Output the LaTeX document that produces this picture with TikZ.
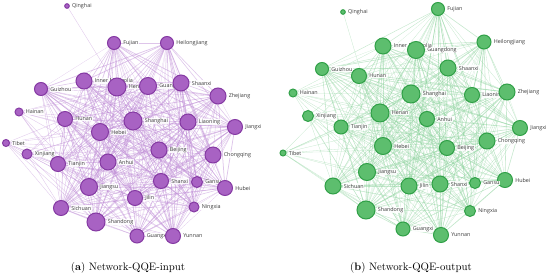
\documentclass[tikz,border=0pt]{standalone}
\usepackage{fontspec}
\newfontfamily\labfont{Open Sans}
\pgfdeclarelayer{bg}
\pgfsetlayers{bg,main}
\definecolor{pfill}{HTML}{A862C3}
\definecolor{pdraw}{HTML}{853AA3}
\definecolor{pedge}{HTML}{BE8CD5}
\definecolor{gfill}{HTML}{5DBE6E}
\definecolor{gdraw}{HTML}{30A047}
\definecolor{gedge}{HTML}{8DD29D}
\definecolor{labtext}{HTML}{3A3A3A}
\tikzset{
  circA/.style={circle,fill=pfill,draw=pdraw,line width=1pt,inner sep=0pt},
  circB/.style={circle,fill=gfill,draw=gdraw,line width=1pt,inner sep=0pt},
  lab/.style={font=\labfont\fontsize{5.4}{6}\selectfont,text=labtext,fill=white,fill opacity=0.85,text opacity=1,inner sep=0.5pt,anchor=west},
  edgeA/.style={draw=pedge,opacity=0.5},
  edgeB/.style={draw=gedge,opacity=0.5},
  capt/.style={font=\fontsize{10.8}{12}\selectfont,text=black,inner sep=0pt}
}
\begin{document}
\begin{tikzpicture}[x=1pt,y=-1pt]
\useasboundingbox (0,0) rectangle (550,278);
% ---------- left graph nodes ----------
\foreach \id/\t/\x/\y/\r in {
 Qinghai/Qinghai/67/6/2.3, Fujian/Fujian/114/43/6.5, Heilongjiang/Heilongjiang/167/43/6.5,
 InnerMongolia/Inner Mongolia/84/81/8, Henan/Henan/117/87/9, Guangdong/Guangdong/148/86/8.5,
 Shaanxi/Shaanxi/181/83/8, Guizhou/Guizhou/41/89/6.5, Zhejiang/Zhejiang/218/96/8,
 Hainan/Hainan/19/112/4, Hunan/Hunan/65/119/7.5, Shanghai/Shanghai/133/121/9,
 Liaoning/Liaoning/188/122/8, Jiangxi/Jiangxi/235/127/7.5, Hebei/Hebei/100/132/8.5,
 Tibet/Tibet/6/143/3.5, Beijing/Beijing/159/150/8, Xinjiang/Xinjiang/27/154/5,
 Chongqing/Chongqing/213/155/8, Tianjin/Tianjin/58/164/7.5, Anhui/Anhui/108/162/8,
 Shanxi/Shanxi/161/181/7.5, Gansu/Gansu/197/182/5.5, Jiangsu/Jiangsu/89/187/8.5,
 Hubei/Hubei/225/188/7.5, Jilin/Jilin/135/198/7.5, Ningxia/Ningxia/194/207/5,
 Sichuan/Sichuan/61/208/7.5, Shandong/Shandong/96/222/9, Guangxi/Guangxi/137/236/7,
 Yunnan/Yunnan/173/236/7.5}{
  \node[circA,minimum size=2*\r pt] (L\id) at (\x,\y) {};
  \node[lab] (LT\id) at ([xshift=1.6pt]L\id.east) {\t};
}
% ---------- right graph nodes ----------
\foreach \id/\t/\x/\y/\r in {
 Qinghai/Qinghai/343/12/2.3, Fujian/Fujian/438/9/6.5, InnerMongolia/Inner Mongolia/383/46/8,
 Guangdong/Guangdong/416/50/8.5, Heilongjiang/Heilongjiang/484/42/7, Guizhou/Guizhou/322/69/6.5,
 Shaanxi/Shaanxi/448/68/8, Hunan/Hunan/359/76/7.5, Hainan/Hainan/293/93/4,
 Shanghai/Shanghai/411/94/9, Liaoning/Liaoning/472/95/7.5, Zhejiang/Zhejiang/507/92/8,
 Henan/Henan/380/113/9, Xinjiang/Xinjiang/308/116/5.5, Anhui/Anhui/427/119/7.5,
 Tianjin/Tianjin/341/127/7, Jiangxi/Jiangxi/520/128/7.5, Chongqing/Chongqing/487/141/8,
 Hebei/Hebei/383/146/8.5, Beijing/Beijing/447/148/7.5, Tibet/Tibet/283/153/3,
 Jiangsu/Jiangsu/367/172/8.5, Hubei/Hubei/505/180/7.5, Gansu/Gansu/475/183/5.5,
 Shanxi/Shanxi/440/184/8, Sichuan/Sichuan/333/186/8, Jilin/Jilin/409/186/8,
 Shandong/Shandong/366/210/9, Ningxia/Ningxia/470/211/5.5, Guangxi/Guangxi/403/229/7,
 Yunnan/Yunnan/441/235/7.5}{
  \node[circB,minimum size=2*\r pt] (R\id) at (\x,\y) {};
  \node[lab] (RT\id) at ([xshift=1.6pt]R\id.east) {\t};
}
% ---------- edges ----------
\def\corelist{Fujian,Heilongjiang,InnerMongolia,Henan,Guangdong,Shaanxi,Guizhou,Zhejiang,Hunan,Shanghai,Liaoning,Jiangxi,Hebei,Beijing,Chongqing,Tianjin,Anhui,Shanxi,Gansu,Jiangsu,Hubei,Jilin,Ningxia,Sichuan,Shandong,Guangxi,Yunnan}
\begin{pgfonlayer}{bg}
\foreach \a [count=\i] in \corelist {
  \foreach \b [count=\j] in \corelist {
    \ifnum\j>\i
      \pgfmathtruncatemacro\m{mod(\i*7+\j*3,4)}
      \pgfmathsetmacro\wa{0.2+0.18*\m}
      \pgfmathtruncatemacro\n{mod(\i*5+\j*11,4)}
      \pgfmathsetmacro\wb{0.15+0.15*\n}
      \draw[edgeA,line width=\wa pt] (L\a.center) -- (L\b.center);
      \draw[edgeB,line width=\wb pt] (R\a.center) -- (R\b.center);
    \fi
  }
}
\foreach \p/\q in {Qinghai/Henan,
 Tibet/Hunan,Tibet/Hebei,Tibet/Tianjin,Tibet/Anhui,Tibet/Jiangsu,Tibet/Sichuan,Tibet/Shandong,Tibet/Shanghai,Tibet/Beijing,Tibet/Jilin,Tibet/Guangxi,
 Hainan/Hunan,Hainan/Hebei,Hainan/Shanghai,Hainan/Henan,Hainan/Tianjin,Hainan/Anhui,Hainan/Jiangsu,Hainan/Guangdong,Hainan/Beijing,Hainan/Shandong,
 Xinjiang/Tianjin,Xinjiang/Sichuan,Xinjiang/Hebei,Xinjiang/Anhui,Xinjiang/Jiangsu,Xinjiang/Shandong,Xinjiang/Shanghai,Xinjiang/Beijing,Xinjiang/Henan,Xinjiang/Jilin,Xinjiang/Hunan}{
  \draw[edgeA,line width=0.35pt] (L\p.center) -- (L\q.center);
}
\foreach \p/\q in {Qinghai/Hebei,
 Tibet/Hunan,Tibet/Hebei,Tibet/Tianjin,Tibet/Anhui,Tibet/Jiangsu,Tibet/Sichuan,Tibet/Shandong,Tibet/Shanghai,Tibet/Beijing,Tibet/Jilin,Tibet/Guangxi,Tibet/Henan,
 Hainan/Hunan,Hainan/Hebei,Hainan/Shanghai,Hainan/Henan,Hainan/Tianjin,Hainan/Anhui,Hainan/Jiangsu,Hainan/Guangdong,Hainan/Beijing,Hainan/Shandong,Hainan/InnerMongolia,
 Xinjiang/Tianjin,Xinjiang/Sichuan,Xinjiang/Hebei,Xinjiang/Anhui,Xinjiang/Jiangsu,Xinjiang/Shandong,Xinjiang/Shanghai,Xinjiang/Beijing,Xinjiang/Henan,Xinjiang/Jilin,Xinjiang/Hunan}{
  \draw[edgeB,line width=0.3pt] (R\p.center) -- (R\q.center);
}
\end{pgfonlayer}
% ---------- captions ----------
\node[capt] (capA) at (128,268) {(\textbf{a}) Network-QQE-input};
\node[capt] (capB) at (411,268) {(\textbf{b}) Network-QQE-output};
\end{tikzpicture}
\end{document}
